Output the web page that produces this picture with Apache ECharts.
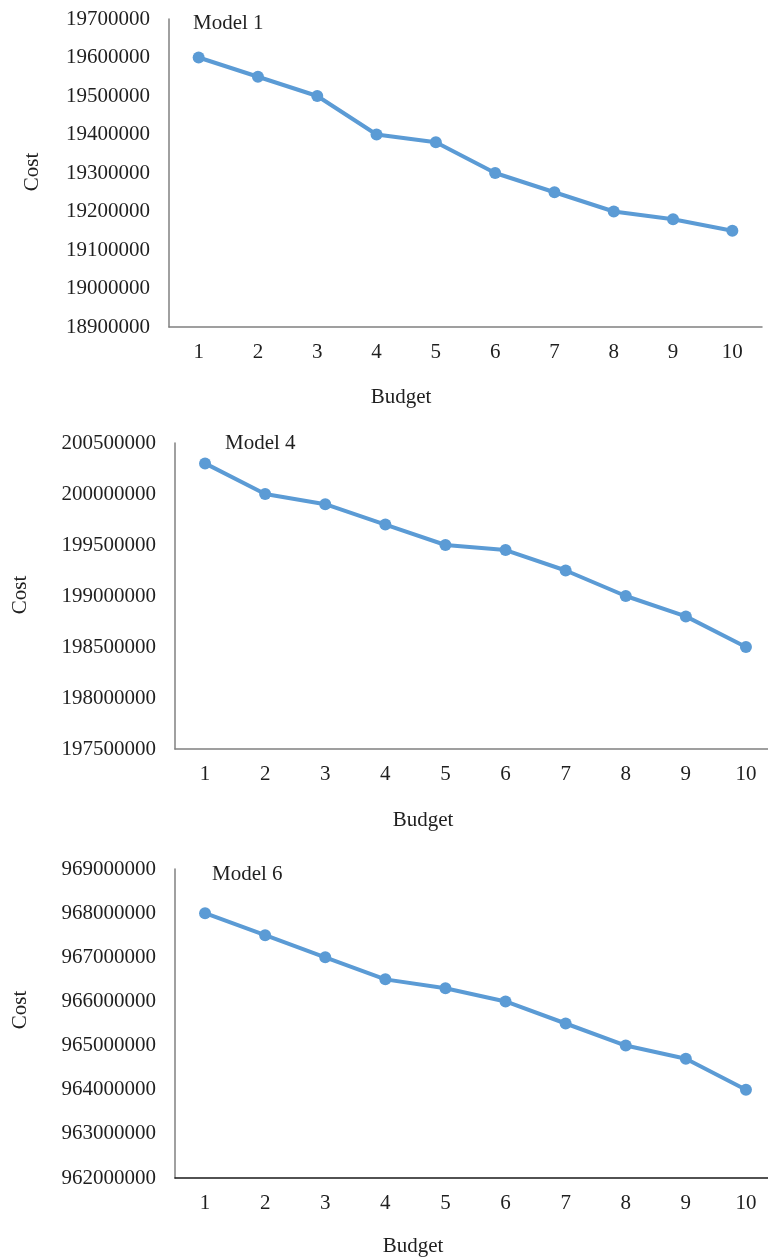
<!DOCTYPE html>
<html>
<head>
<meta charset="utf-8">
<script src="https://cdn.jsdelivr.net/npm/echarts@6/dist/echarts.min.js"></script>
<style>
html,body{margin:0;padding:0;background:#fff;}
#c{width:768px;height:1259px;}
</style>
</head>
<body>
<div id="c"></div>
<script>
var budget = ['1','2','3','4','5','6','7','8','9','10'];
var model1Cost = [19600000,19550000,19500000,19400000,19380000,19300000,19250000,19200000,19180000,19150000];
var model4Cost = [200300000,200000000,199900000,199700000,199500000,199450000,199250000,199000000,198800000,198500000];
var model6Cost = [968000000,967500000,967000000,966500000,966300000,966000000,965500000,965000000,964700000,964000000];
var model1Ticks = {min:18900000, max:19700000, interval:100000};
var model4Ticks = {min:197500000, max:200500000, interval:500000};
var model6Ticks = {min:962000000, max:969000000, interval:1000000};
var titles = ['Model 1','Model 4','Model 6'];

var FONT = 'Liberation Serif';
var TXT = '#1f1f1f';
var BLUE = '#5B9BD5';

var grids = [
  {left:169, top:19, width:593, height:308},
  {left:175, top:443, width:601, height:306},
  {left:175, top:869, width:601, height:309}
];
var xAxisColors = ['#808080','#808080','#1a1a1a'];
var yAxisColors = ['#808080','#808080','#808080'];
var tickSets = [model1Ticks, model4Ticks, model6Ticks];
var dataSets = [model1Cost, model4Cost, model6Cost];

var option = {
  animation:false,
  backgroundColor:'#fff',
  grid: grids.map(function(g){return Object.assign({containLabel:false, outerBoundsMode:'none'}, g);}),
  xAxis: grids.map(function(g,i){return {
    type:'category', gridIndex:i, data:budget, boundaryGap:true,
    axisLine:{lineStyle:{color:xAxisColors[i], width:1.5}},
    axisTick:{show:false},
    axisLabel:{color:TXT, fontFamily:FONT, fontSize:21, margin:15},
    splitLine:{show:false}
  };}),
  yAxis: grids.map(function(g,i){return {
    type:'value', gridIndex:i,
    min:tickSets[i].min, max:tickSets[i].max, interval:tickSets[i].interval,
    axisLine:{show:true, lineStyle:{color:yAxisColors[i], width:1.5}},
    axisTick:{show:false},
    splitLine:{show:false},
    axisLabel:{color:TXT, fontFamily:FONT, fontSize:21, margin:19,
      formatter:function(v){return String(v);}}
  };}),
  series: dataSets.map(function(d,i){return {
    type:'line', xAxisIndex:i, yAxisIndex:i, data:d,
    symbol:'circle', symbolSize:12,
    lineStyle:{color:BLUE, width:4},
    itemStyle:{color:BLUE}
  };}),
  graphic: [
    {type:'text', left:193, top:13, style:{text:titles[0], font:'21px "Liberation Serif"', fill:TXT}},
    {type:'text', left:225, top:433, style:{text:titles[1], font:'21px "Liberation Serif"', fill:TXT}},
    {type:'text', left:212, top:864, style:{text:titles[2], font:'21px "Liberation Serif"', fill:TXT}},
    {type:'text', x:32, y:172, rotation:Math.PI/2, style:{text:'Cost', font:'21px "Liberation Serif"', fill:TXT, align:'center', verticalAlign:'middle'}},
    {type:'text', x:20, y:595, rotation:Math.PI/2, style:{text:'Cost', font:'21px "Liberation Serif"', fill:TXT, align:'center', verticalAlign:'middle'}},
    {type:'text', x:20, y:1010, rotation:Math.PI/2, style:{text:'Cost', font:'21px "Liberation Serif"', fill:TXT, align:'center', verticalAlign:'middle'}},
    {type:'text', x:401, y:397, style:{text:'Budget', font:'21px "Liberation Serif"', fill:TXT, align:'center', verticalAlign:'middle'}},
    {type:'text', x:423, y:820, style:{text:'Budget', font:'21px "Liberation Serif"', fill:TXT, align:'center', verticalAlign:'middle'}},
    {type:'text', x:413, y:1246, style:{text:'Budget', font:'21px "Liberation Serif"', fill:TXT, align:'center', verticalAlign:'middle'}}
  ]
};
var chart = echarts.init(document.getElementById('c'));
chart.setOption(option);
</script>
</body>
</html>
